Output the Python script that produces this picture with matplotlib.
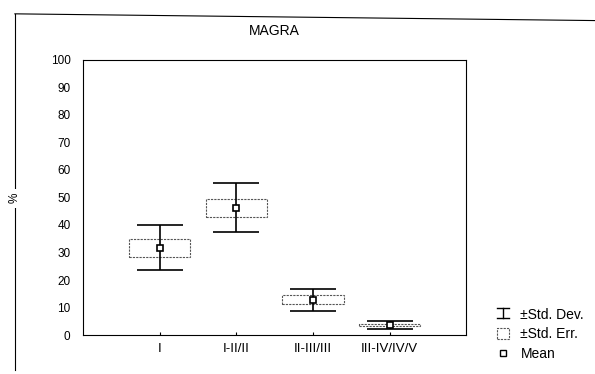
import matplotlib
matplotlib.use("Agg")
import matplotlib.pyplot as plt
from matplotlib.lines import Line2D
from matplotlib.patches import Rectangle
from matplotlib.legend_handler import HandlerBase

plt.rcParams['font.family'] = ['Liberation Sans', 'DejaVu Sans']

# values (%)
groups = ['I', 'I-II/II', 'II-III/III', 'III-IV/IV/V']
means = [31.7, 46.2, 12.8, 3.6]
std_err = [3.2, 3.4, 1.6, 0.45]
std_dev = [8.2, 8.9, 4.0, 1.5]

xpos = list(range(1, len(groups) + 1))


class IBeamHandler(HandlerBase):
    # legend key for the +/- std. dev. whisker
    def create_artists(self, legend, orig, xd, yd, width, height, fontsize, trans):
        cx = xd + width / 2
        lines = [
            Line2D([cx, cx], [yd, yd + height], color='black', linewidth=1.0),
            Line2D([xd, xd + width], [yd + height, yd + height], color='black', linewidth=1.0),
            Line2D([xd, xd + width], [yd, yd], color='black', linewidth=1.0),
        ]
        for ln in lines:
            ln.set_transform(trans)
        return lines


fig = plt.figure(figsize=(5.95, 3.74), dpi=100)
ax = fig.add_axes([0.1395, 0.104, 0.644, 0.736])

# +/- std. err. boxes
lo_se = [m - s for m, s in zip(means, std_err)]
ax.bar(xpos, [2 * s for s in std_err], bottom=lo_se, width=0.8,
       fill=False, edgecolor='#555555', linestyle=(0, (2, 1)), linewidth=0.8)

# +/- std. dev. whiskers
lo_sd = [m - s for m, s in zip(means, std_dev)]
hi_sd = [m + s for m, s in zip(means, std_dev)]
ax.vlines(xpos, lo_sd, hi_sd, color='black', linewidth=1.2)
ax.hlines(lo_sd, [x - 0.3 for x in xpos], [x + 0.3 for x in xpos], color='black', linewidth=1.2)
ax.hlines(hi_sd, [x - 0.3 for x in xpos], [x + 0.3 for x in xpos], color='black', linewidth=1.2)

# means
ax.plot(xpos, means, linestyle='none', marker='s', markersize=4,
        markerfacecolor='white', markeredgecolor='black', markeredgewidth=1.2)

ax.set_xlim(0, 5)
ax.set_ylim(0, 100)
ax.set_yticks(range(0, 101, 10))
ax.set_xticks(xpos)
ax.set_xticklabels(groups)
ax.tick_params(axis='y', length=0, pad=9, labelsize=8.5)
ax.tick_params(axis='x', length=2, direction='in', pad=6, labelsize=9.5)
for sp in ax.spines.values():
    sp.set_linewidth(0.8)

ax.set_title('MAGRA', fontsize=10, pad=18)
fig.text(0.024, 0.47, '%', rotation=90, ha='center', va='center', fontsize=8.5,
         bbox=dict(facecolor='white', edgecolor='none', pad=3), zorder=5)

# outer graph frame
fig.add_artist(Line2D([0.025, 0.025], [0.01, 0.963], color='black', linewidth=0.8, zorder=1))
fig.add_artist(Line2D([0.025, 1.0], [0.963, 0.945], color='black', linewidth=0.8))

# legend
sd_handle = Line2D([], [])
se_handle = Rectangle((0, 0), 1, 1, fill=False, edgecolor='#555555', linestyle=(0, (2, 1)), linewidth=0.8)
mean_handle = Line2D([], [], linestyle='none', marker='s', markersize=4,
                     markerfacecolor='white', markeredgecolor='black', markeredgewidth=1.0)
fig.legend([sd_handle, se_handle, mean_handle], ['±Std. Dev.', '±Std. Err.', 'Mean'],
           handler_map={sd_handle: IBeamHandler()},
           loc='lower left', bbox_to_anchor=(0.835, 0.035), frameon=False, fontsize=10,
           handlelength=0.9, handleheight=0.8, handletextpad=0.8, labelspacing=0.4,
           borderpad=0, borderaxespad=0)

fig.savefig('out.png', dpi=100)
